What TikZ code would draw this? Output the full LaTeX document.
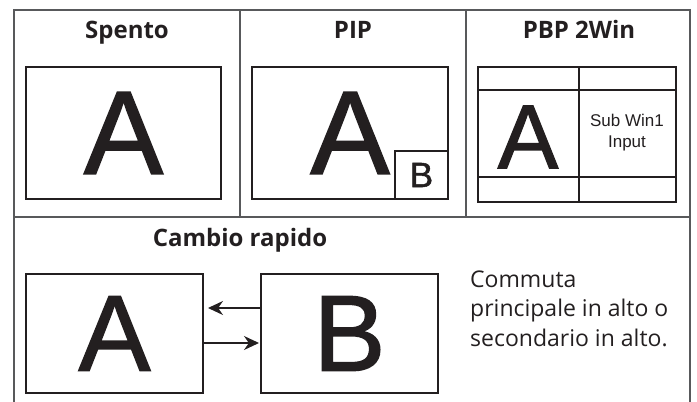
\documentclass[tikz,border=0pt]{standalone}
\usepackage{fontspec}
\setmainfont{Open Sans}
\newfontfamily\arialfont{Liberation Sans}
\newfontfamily\letterfont[FakeBold=1.3]{Liberation Sans}
\usetikzlibrary{arrows.meta}
\definecolor{ink}{HTML}{231F20}
\definecolor{rule}{HTML}{58595B}

\begin{document}
\begin{tikzpicture}[x=1pt, y=-1pt,
  frame/.style={draw=rule, line width=1.4pt},
  screen/.style={draw=ink, line width=2pt, fill=white, inner sep=0pt, text=ink},
  title/.style={anchor=base, text=ink, font=\fontsize{24}{28}\bfseries\selectfont},
  swap/.style={draw=ink, line width=1.4pt, -{Stealth[length=15pt, width=14pt]}}]
\useasboundingbox (0,0) rectangle (697,402);
% table
\draw[frame] (14,402) -- (14,10) -- (690,10) -- (690,402);
\draw[frame] (14,217) -- (690,217);
\draw[frame] (240,10) -- (240,217);
\draw[frame] (466,10) -- (466,217);
% titles
\node[title] (offtitle) at (127,38) {Spento};
\node[title] (piptitle) at (353,38) {PIP};
\node[title] (pbptitle) at (579,38) {PBP 2Win};
\node[title] (swaptitle) at (240,246) {Cambio rapido};
% off
\node[screen, minimum width=195, minimum height=132, font=\letterfont\fontsize{119}{119}\selectfont] (offscr) at (123.5,133) {A};
% pip
\node[screen, minimum width=196, minimum height=132, font=\letterfont\fontsize{119}{119}\selectfont] (pipscr) at (350,133) {A};
\node[screen, minimum width=53, minimum height=48, font=\letterfont\fontsize{35}{35}\selectfont] (pipsub) at (421.5,175) {B};
% pbp
\node[screen, minimum width=198, minimum height=135] (pbpscr) at (577,134.5) {};
\draw[ink, line width=2pt] (579,67) -- (579,202);
\draw[ink, line width=2pt] (478,90) -- (676,90);
\draw[ink, line width=2pt] (478,177) -- (676,177);
\node[inner sep=0pt, text=ink, font=\letterfont\fontsize{91}{91}\selectfont] (pbpmain) at (528,137) {A};
\node[text=ink, align=center, font=\arialfont\fontsize{17}{21}\selectfont] (pbpsub) at (627,133) {Sub Win1\\Input};
% swap
\node[screen, minimum width=177, minimum height=119, font=\letterfont\fontsize{108}{108}\selectfont] (swapa) at (114.5,333.5) {A};
\node[screen, minimum width=177, minimum height=119, font=\letterfont\fontsize{108}{108}\selectfont] (swapb) at (349.5,333.5) {B};
\draw[swap] ([yshift=25.5pt]swapb.west) -- ([yshift=25.5pt, xshift=4pt]swapa.east);
\draw[swap] ([yshift=-9.5pt]swapa.east) -- ([yshift=-9.5pt, xshift=-1pt]swapb.west);
\node[anchor=base west, align=left, text=ink, inner sep=0pt, font=\fontsize{23}{29.5}\selectfont] (swapnote) at (470,346) {Commuta\\principale in alto o\\secondario in alto.};
\end{tikzpicture}
\end{document}
